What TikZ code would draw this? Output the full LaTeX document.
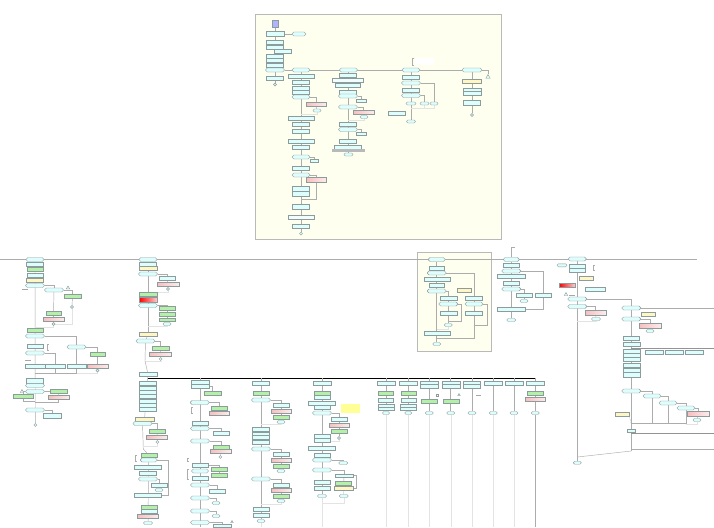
\documentclass[tikz,border=0pt]{standalone}
\usetikzlibrary{shapes.geometric}
\pgfdeclarelayer{back}
\pgfdeclarelayer{bg}
\pgfsetlayers{back,bg,main}
\definecolor{boxc}{RGB}{222,253,253}
\definecolor{boxg}{RGB}{180,240,168}
\definecolor{boxy}{RGB}{255,246,196}
\definecolor{boxp}{RGB}{248,190,190}
\definecolor{edgec}{RGB}{140,155,155}
\definecolor{panel}{RGB}{255,255,240}
\tikzset{
  nd/.style={draw=edgec,line width=0.4pt,inner sep=0pt,minimum height=4pt,minimum width=17pt},
  w/.style={minimum width=#1pt},
  h/.style={minimum height=#1pt},
  cb/.style={nd,fill=boxc},
  gb/.style={nd,fill=boxg},
  yb/.style={nd,fill=boxy},
  pb/.style={nd,left color=boxp,right color=boxp!30},
  rg/.style={nd,left color=red,right color=red!20},
  ob/.style={cb,rounded corners=1.8pt,minimum width=19pt},
  sov/.style={cb,rounded corners=1.4pt,minimum width=8pt,minimum height=3pt},
  tm/.style={draw=edgec,fill=boxc,circle,inner sep=0pt,minimum size=3pt},
  tri/.style={draw=edgec,fill=boxc,regular polygon,regular polygon sides=3,inner sep=0pt,minimum size=5pt},
  wire/.style={draw=gray!65,line width=0.45pt},
  faint/.style={draw=gray!22,line width=0.4pt},
  heavy/.style={draw=black,line width=0.8pt},
  tick/.style={draw=gray!70,line width=0.45pt},
}
\begin{document}
\begin{tikzpicture}[x=1pt,y=-1pt]
\useasboundingbox (0,0) rectangle (714,527);
\begin{pgfonlayer}{back}
\fill[white] (0,0) rectangle (714,527);
% upper panel
\draw[draw=gray!55,fill=panel,line width=0.5pt] (255.5,14.5) rectangle (501.5,239.5);
% small framed group
\draw[draw=gray!55,fill=panel,line width=0.5pt] (417,252) rectangle (491,351);
\end{pgfonlayer}

% first lane
\node[nd,fill=blue!30,w=6,h=7] (t0) at (275,23.5) {};
\node[cb,w=18,h=5] (t1) at (275,34) {};
\node[ob,w=14] (t1r) at (299,34) {};
\node[cb] (t2) at (275,42) {};
\node[cb] (t3) at (275,47) {};
\node[cb] (t3r) at (283,51) {};
\node[cb] (t4) at (275,56.5) {};
\node[cb] (t5) at (275,60.2) {};
\node[cb] (t6) at (275,65) {};
\node[ob] (t7) at (275,70) {};
\node[cb] (t8) at (275,78) {};
\node[tm] (t9) at (275,84.5) {};

% second lane
\node[ob,w=18] (a1) at (301,70) {};
\node[cb,w=26] (a2) at (301,76) {};
\node[cb] (a3) at (301,82) {};
\node[cb] (a4) at (301,88.5) {};
\node[cb] (a5) at (301,92.3) {};
\node[ob,w=18] (a6) at (301,97) {};
\node[pb,w=20] (a6p) at (316,104) {};
\node[sov] (a6s) at (317,110.5) {};
\node[cb,w=26] (a7) at (301,118) {};
\node[cb] (a8) at (301,124) {};
\node[cb] (a9) at (301,131) {};
\node[cb,w=26] (a10) at (301,141) {};
\node[cb] (a11) at (301,147) {};
\node[ob,w=18] (a12) at (301,157) {};
\node[cb,w=8,h=3.5] (a12r) at (314,160.5) {};
\node[cb] (a13) at (301,168) {};
\node[ob,w=18] (a14) at (301,175) {};
\node[pb,w=20,h=5] (a14p) at (316,179.5) {};
\node[cb,h=5] (a15) at (301,188.5) {};
\node[cb,h=5] (a16) at (301,193.5) {};
\node[cb,h=5] (a17) at (301,206.5) {};
\node[cb,w=26,fill=boxc!40] (a18) at (301,217.5) {};
\node[cb] (a19) at (301,226) {};
\node[tm] (a20) at (301,233.7) {};
\coordinate (a6j) at (301,114);
\coordinate (a14j) at (301,199);

% third lane
\node[ob,w=18] (b1) at (348.5,70) {};
\node[cb] (b2) at (348,75) {};
\node[cb,w=31,fill=boxc!40] (b3) at (348,80.5) {};
\node[cb,w=25] (b4) at (348,85) {};
\node[cb] (b5) at (348,92) {};
\node[ob] (b6) at (348,96) {};
\node[cb,w=10,h=3] (b6r) at (361,100.5) {};
\node[ob] (b7) at (348,107) {};
\node[pb,w=21] (b7p) at (363.5,112) {};
\node[sov] (b7s) at (364,117) {};
\node[cb] (b8) at (348,124) {};
\node[ob] (b9) at (348,129.5) {};
\node[cb,w=10,h=3] (b9r) at (361,133.5) {};
\node[cb] (b10) at (348,141) {};
\node[cb,w=27] (b11) at (348,147) {};
\node[nd,fill=gray!55,draw=gray!55,w=32,h=2] (b12) at (348,150.3) {};
\node[sov,w=9] (b13) at (348.5,154.5) {};
\coordinate (b7j) at (348,120);

% fourth lane
\node[fill=white,inner sep=0pt,minimum width=19pt,minimum height=7pt] (c0) at (424,61.5) {};
\node[ob,w=18] (c1) at (411,70) {};
\node[cb] (c2) at (411,77) {};
\node[ob] (c3) at (411,83) {};
\node[cb] (c4) at (411,90) {};
\node[ob] (c5) at (411,95.5) {};
\node[sov,w=10] (c6) at (411,103.5) {};
\node[sov,w=9] (c6b) at (424.5,103.5) {};
\node[sov,w=8] (c6c) at (434,103.5) {};
\node[cb] (c7) at (396.5,113) {};
\node[sov,w=9] (c8) at (411,121.5) {};
\coordinate (c6j) at (411,108);

% fifth lane
\node[ob,w=20] (d1) at (472,70) {};
\node[tri] (d1t) at (488,77) {};
\node[yb,w=19] (d2) at (472,81) {};
\node[cb,w=18,h=3.5] (d3) at (472,89.5) {};
\node[cb,w=18,h=3.5] (d3b) at (472,93.3) {};
\node[cb,w=17,h=5] (d4) at (472,102.5) {};
\node[tm] (d5) at (472,115) {};

% ---------- small framed group ----------
\node[ob,w=17] (k1) at (436.7,259.5) {};
\node[cb,w=15] (k2) at (436.7,268) {};
\node[ob] (k3) at (436.7,273) {};
\node[cb,w=26] (k4) at (436.7,279) {};
\node[cb,w=15] (k5) at (436.7,285) {};
\node[ob] (k6) at (436.7,291) {};
\node[yb,w=14] (k6y) at (464,290.5) {};
\node[cb] (k7) at (448.3,298.5) {};
\node[ob] (k8) at (448.3,304) {};
\node[cb] (k9) at (448.3,313) {};
\node[sov] (k9s) at (448.3,325) {};
\node[cb] (k10) at (474,298.5) {};
\node[ob,w=18] (k11) at (474,304) {};
\node[cb] (k12) at (474,313) {};
\node[cb,w=26] (k13) at (436.7,333) {};
\node[sov] (k14) at (436.7,344) {};

% ---------- lane beside the framed group ----------
\node[ob,w=16] (m1) at (511.3,259.5) {};
\node[cb,w=16] (m2) at (511.3,265) {};
\node[ob] (m3) at (511.3,271) {};
\node[cb,w=28] (m4) at (511.3,276.5) {};
\node[cb,w=16] (m5) at (511.3,283) {};
\node[ob] (m6) at (511.3,289) {};
\node[cb,w=16] (m7) at (524,295) {};
\node[cb,w=16] (m8) at (543.3,295) {};
\node[sov] (m7s) at (524,301) {};
\node[cb,w=28] (m9) at (511.3,309) {};
\node[sov,w=9] (m10) at (511.3,320) {};

% ---------- right lanes ----------
\node[ob,w=18] (n1) at (577.3,259) {};
\node[sov,w=10] (n0) at (562,265.3) {};
\node[cb,w=16] (n2) at (577.3,266) {};
\node[cb,w=16] (n3) at (577.3,269.7) {};
\node[yb,w=14] (n4) at (586,278) {};
\node[rg,w=16] (n5) at (567,285) {};
\node[cb,w=20] (n6) at (595,289.5) {};
\node[tri,minimum size=4pt] (n6t) at (566,294.5) {};
\node[ob] (n7) at (577.3,299) {};
\node[ob] (n8) at (577.3,306.5) {};
\node[pb,w=21,h=5] (n9) at (595.5,313) {};
\node[sov,w=9] (n9s) at (596,319) {};
\node[sov,w=8] (n10) at (577.3,462.7) {};
\coordinate (n9j) at (577.3,321);

\node[ob] (p1) at (631.3,308) {};
\node[yb,w=14] (p2) at (648,314) {};
\node[ob] (p3) at (631.3,319) {};
\node[pb,w=22,h=5] (p4) at (650,325.5) {};
\node[sov,w=8] (p4s) at (650,331) {};
\node[cb,w=16] (p5) at (631.3,338) {};
\node[cb,w=17] (p6) at (631.3,344) {};
\node[cb] (p7) at (631.3,351.5) {};
\node[cb] (p8) at (631.3,355.5) {};
\node[cb] (p9) at (631.3,359.5) {};
\node[cb] (p10) at (631.3,365.5) {};
\node[cb] (p11) at (631.3,369.7) {};
\node[cb,h=4.5] (p12) at (631.3,374.5) {};
\node[cb,w=18] (p13) at (654,352.5) {};
\node[cb,w=18] (p14) at (674,352.5) {};
\node[cb,w=18] (p15) at (694,352.5) {};
\node[ob] (p16) at (631.3,391) {};
\node[ob,w=18] (p17) at (652,396) {};
\node[ob,w=18] (p18) at (668,403) {};
\node[ob,w=18] (p19) at (686,408) {};
\node[pb,w=22,h=5] (p20) at (698,413.5) {};
\node[sov,w=8] (p20s) at (697,420) {};
\node[yb,w=14] (p21) at (622,414) {};
\node[cb,w=8,h=3] (p22) at (631.3,430.5) {};
\coordinate (pj) at (631.3,423.7);
\coordinate (pe) at (631.3,451);

% ---------- lane A ----------
\node[ob,w=18] (e1) at (35,259.5) {};
\node[cb] (e2) at (35,264.5) {};
\node[gb,w=16] (e3) at (35,269) {};
\node[cb,w=16] (e4) at (35,275.5) {};
\node[yb] (e5) at (35,280) {};
\node[ob] (e6) at (35,285.5) {};
\node[ob] (e7) at (54,290) {};
\node[tri,minimum size=4pt] (e7t) at (68,288) {};
\node[gb] (e8) at (72.5,296) {};
\node[tm] (e8s) at (72,307) {};
\node[gb,w=15] (e9) at (53.5,313) {};
\node[pb,w=21] (e10) at (53.5,319) {};
\node[tm] (e10s) at (53.5,324) {};
\node[gb,w=16] (e11) at (35,330) {};
\node[ob] (e12) at (35,336) {};
\node[cb,w=16] (e13) at (35,346) {};
\node[ob] (e14) at (35,353) {};
\node[ob] (e15) at (76.5,347) {};
\node[gb,w=15] (e16) at (97.5,354) {};
\node[cb,w=20] (e17) at (35,366) {};
\node[cb,w=20] (e18) at (55,366) {};
\node[cb,w=19] (e19) at (76.5,366) {};
\node[pb,w=21] (e20) at (97.5,366) {};
\node[tm] (e20s) at (97.5,370.5) {};
\node[cb,h=5] (e21) at (35,380.5) {};
\node[ob] (e22) at (35,385.5) {};
\node[ob] (e23) at (35,391.5) {};
\node[gb,w=20] (e24) at (23,396) {};
\node[gb] (e25) at (58.3,391.5) {};
\node[pb,w=21] (e26) at (58.7,397) {};
\node[ob] (e27) at (35,410) {};
\node[cb,w=18,h=5] (e28) at (52,415.5) {};
\node[tm] (e29) at (35.3,425) {};
\node[tri,minimum size=4pt] (e24t) at (22,391.5) {};

% ---------- lane B ----------
\node[ob,w=18] (f1) at (148,259.5) {};
\node[cb] (f2) at (148,264.5) {};
\node[yb,w=18] (f3) at (148,268.5) {};
\node[ob] (f4) at (148,274) {};
\node[cb,w=16] (f5) at (167,278) {};
\node[pb,w=22] (f6) at (168,284) {};
\node[tm] (f6s) at (168,289) {};
\node[gb,w=18] (f7) at (148,294) {};
\node[rg,w=18,h=5] (f8) at (148,300) {};
\node[ob] (f9) at (148,305.5) {};
\node[gb,w=16] (f10) at (167,308) {};
\node[gb,w=16] (f11) at (167,314) {};
\node[gb,w=16,h=3.5] (f12) at (167,319.5) {};
\node[sov] (f12s) at (167,324) {};
\node[yb,w=18] (f13) at (148,334.5) {};
\node[ob] (f14) at (145.5,341) {};
\node[gb] (f15) at (160.5,348) {};
\node[pb,w=22] (f16) at (160,354) {};
\node[tm] (f16s) at (160.7,359) {};
\node[cb,w=18] (f17) at (148,374) {};
\node[cb] (f18) at (148,383.5) {};
\node[cb] (f19) at (148,388) {};
\node[cb] (f20) at (148,392.5) {};
\node[cb] (f21) at (148,396.6) {};
\node[cb] (f22) at (148,401) {};
\node[cb] (f23) at (148,405.5) {};
\node[cb] (f24) at (148,409.6) {};
\node[yb,w=19] (f25) at (144.5,419.5) {};
\node[ob] (f26) at (142.5,423.5) {};
\node[gb,w=16] (f27) at (157,431) {};
\node[pb,w=21] (f28) at (157,437) {};
\node[tm] (f28s) at (157.3,442) {};
\node[gb,w=16] (f29) at (148.7,455) {};
\node[ob,w=17] (f30) at (148.7,460) {};
\node[cb,w=27] (f31) at (148,467) {};
\node[cb] (f32) at (148,473) {};
\node[ob] (f33) at (148,479) {};
\node[cb,w=16] (f34) at (159,485) {};
\node[sov] (f34s) at (159,490) {};
\node[cb,w=27] (f35) at (148,495.5) {};
\node[gb,w=16] (f36) at (148.7,507) {};
\node[cb,w=16] (f37) at (148.7,511) {};
\node[pb,w=21] (f38) at (147.7,516.5) {};
\node[sov,w=9] (f39) at (148,523) {};
\coordinate (hb0) at (148,378.3);
\coordinate (hb1) at (536,378.3);

% ---------- lane C ----------
\node[cb,w=18] (g1) at (200,382.5) {};
\node[cb,w=18] (g2) at (200,386.5) {};
\node[gb] (g3) at (212.7,393) {};
\node[ob] (g4) at (199.7,402.5) {};
\node[gb,w=16] (g5) at (219,408) {};
\node[pb,w=20] (g6) at (219,413) {};
\node[cb,w=16] (g7) at (200,423) {};
\node[ob] (g8) at (200,428.5) {};
\node[cb,w=16] (g9) at (221,433) {};
\node[ob] (g10) at (200,441) {};
\node[gb,w=16] (g11) at (221,447) {};
\node[pb,w=21] (g12) at (220.7,451.5) {};
\node[tm] (g12s) at (220.3,457) {};
\node[cb,w=16] (g13) at (200,465) {};
\node[ob,w=17] (g14) at (200,471) {};
\node[gb,w=16] (g15) at (219,469) {};
\node[gb,w=16] (g16) at (219,475) {};
\node[cb,w=16] (g17) at (200,478) {};
\node[ob] (g18) at (200,485) {};
\node[cb,w=16] (g19) at (217,491) {};
\node[ob] (g20) at (200,498) {};
\node[sov] (g20s) at (216,503) {};
\node[ob] (g21) at (200,511) {};
\node[sov] (g21s) at (216,516) {};
\node[ob] (g22) at (200,522.5) {};
\node[cb,w=18,h=3] (g23) at (222,525.5) {};
\node[tri,minimum size=3pt] (g23t) at (232,522) {};

% ---------- lane D ----------
\node[cb] (h1) at (261,383) {};
\node[gb,w=16] (h2) at (261,393) {};
\node[ob] (h3) at (261,400) {};
\node[cb,w=16] (h4) at (281,405) {};
\node[pb,w=20] (h5) at (281,411) {};
\node[gb,w=16] (h6) at (281,417) {};
\node[sov] (h6s) at (281,422) {};
\node[cb] (h7) at (261,429) {};
\node[cb] (h8) at (261,434) {};
\node[cb] (h9) at (261,437.5) {};
\node[cb] (h10) at (261,442) {};
\node[ob] (h11) at (261,449) {};
\node[cb,w=16] (h12) at (281,454) {};
\node[pb,w=20] (h13) at (281,460) {};
\node[gb,w=16] (h14) at (281,466) {};
\node[sov] (h14s) at (281,471) {};
\node[ob] (h15) at (261,479) {};
\node[cb,w=16] (h16) at (281,485) {};
\node[pb,w=20] (h17) at (281,490.5) {};
\node[gb,w=16] (h18) at (281,496) {};
\node[sov] (h18s) at (281,501) {};
\node[cb,w=16] (h19) at (261,509) {};
\node[cb,w=16] (h20) at (261,515) {};
\node[sov] (h21) at (261,521) {};

% ---------- lane E ----------
\node[cb,w=18] (i1) at (322,383) {};
\node[gb,w=16] (i2) at (322,393) {};
\node[cb,w=16] (i3) at (322,397) {};
\node[cb,w=27] (i4) at (322,403) {};
\node[cb,w=16] (i5) at (322,407) {};
\node[fill={rgb,255:red,255;green,255;blue,150},inner sep=0pt,minimum width=19pt,minimum height=9pt] (iY) at (350.7,408.5) {};
\node[ob] (i6) at (322,413) {};
\node[cb,w=16] (i7) at (339,419) {};
\node[pb,w=20] (i8) at (339,425) {};
\node[gb,w=16] (i9) at (339,431) {};
\node[tm] (i9s) at (339,438) {};
\node[cb,w=16] (i10) at (322,436.5) {};
\node[cb,w=16] (i11) at (322,440.3) {};
\node[cb,w=27] (i12) at (322,448) {};
\node[cb,w=16] (i13) at (322,455) {};
\node[ob] (i14) at (322,460) {};
\node[sov,w=9] (i14s) at (343.3,463) {};
\node[ob] (i15) at (322,470) {};
\node[cb,w=18,h=3.5] (i16) at (344,475.5) {};
\node[gb,w=16] (i17) at (343,483) {};
\node[yb,w=19] (i18) at (343.3,488) {};
\node[cb,w=16] (i19) at (322,482.5) {};
\node[cb,w=16] (i20) at (322,488) {};
\node[sov,w=9] (i21) at (322,496) {};
\node[sov,w=9] (i22) at (343.7,496) {};

% ---------- short lanes under the bar ----------
\foreach \nm/\xx in {jA/386,jB/408.3}{
  \node[cb,w=18] (\nm1) at (\xx,383) {};
  \node[gb,w=15] (\nm2) at (\xx,393) {};
  \node[cb,w=15] (\nm3) at (\xx,400) {};
  \node[cb,w=16,h=3] (\nm4) at (\xx,406) {};
  \node[cb,w=16,h=3] (\nm5) at (\xx,409) {};
  \node[sov,w=7] (\nm6) at (\xx,413) {};
}
\foreach \nm/\xx in {jC/429.3,jD/450.7}{
  \node[cb,w=18] (\nm1) at (\xx,383) {};
  \node[cb,w=18] (\nm2) at (\xx,386.5) {};
  \node[gb,w=16] (\nm3) at (\xx,401) {};
  \node[sov,w=8] (\nm6) at (\xx,413) {};
}
\node[cb,w=17] (jE1) at (472,383) {};
\node[cb,w=17] (jE2) at (472,386.5) {};
\node[sov,w=8] (jE6) at (472,413) {};
\foreach \nm/\xx in {jF/493.3,jG/514}{
  \node[cb,w=18] (\nm1) at (\xx,383) {};
  \node[sov,w=8] (\nm6) at (\xx,413) {};
}
\node[cb,w=18] (jH1) at (535.3,383) {};
\node[gb,w=16] (jH2) at (535.3,393) {};
\node[pb,w=20] (jH3) at (535.3,399) {};
\node[sov,w=8] (jH6) at (535.3,413) {};
\node[draw=edgec,inner sep=0pt,minimum size=1.6pt] (jCm) at (437,395) {};
\node[tri,minimum size=3pt] (jDm) at (459,395) {};

% ---------- connectors ----------
\begin{pgfonlayer}{bg}
% upper panel
\draw[wire] (t0) -- (t9);
\draw[wire] (t1) -- (t1r);
\draw[wire] (t7) -- (d1);
\draw[wire] (a1) -- (a20);
\draw[wire] (a6.east) -| (a6p.north);
\draw[wire] (a6p) -- (a6s);
\draw[faint] (a6s.south) |- (a6j);
\draw[wire] (a12.east) -| (a12r.north);
\draw[wire] (a14.east) -| (a14p.north);
\draw[wire] (a14p.south) |- (a14j);
\draw[wire] (b1) -- (b13);
\draw[wire] (b6.east) -| (b6r.north);
\draw[wire] (b7.east) -| (b7p.north);
\draw[wire] (b7p) -- (b7s);
\draw[faint] (b7s.south) |- (b7j);
\draw[wire] (b9.east) -| (b9r.north);
\draw[wire] (c0.north west) -- ++(-2,0) |- (c0.south west);
\draw[wire] (c1) -- (c8);
\draw[wire] (c3.east) -| (c6c.north);
\draw[wire] (c5.east) -| (c6b.north);
\draw[faint] (c6b.south) |- (c6j);
\draw[faint] (c6c.south) |- (c6j);
\draw[wire] (d1) -- (d5);
\draw[wire] (d1.east) -| (d1t.north);

% long rule
\draw[wire] (0,259.5) -- (697,259.5);

% framed group
\draw[wire] (k1) -- (k14);
\draw[wire] (k3.east) -| (k10.north);
\draw[wire] (k6.east) -| (k7.north);
\draw[wire] (k7) -- (k9s);
\draw[wire] (k8.east) -| (461.3,321) -| (k9s.north);
\draw[wire] (k10) -- (k12);
\draw[wire] (k11.east) -| (487,325) -| (k12.south);
\draw[wire] (k12.south) |- (436.7,338);
\draw[faint] (k9s.south) |- (436.7,329.3);

% lane beside
\draw[wire] (m1.north) -- ++(0,-10.5) -- ++(3.5,0);
\draw[wire] (m1) -- (m10);
\draw[wire] (m3.east) -| (m8.north);
\draw[wire] (m6.east) -| (m7.north);
\draw[wire] (m7) -- (m7s);
\draw[wire] (m8.south) |- (m9.east);

% right lanes
\draw[wire] (n1) -- (n10);
\draw[wire] (595,265) -- (593.5,265) -- (593.5,270.5) -- (595,270.5);
\draw[tick] (569,294.8) -- (575,294.8);
\draw[wire] (n8.east) -| (n9.north);
\draw[wire] (n9) -- (n9s);
\draw[faint] (n9s.south) |- (n9j);
\draw[wire] (n7.east) -| (p1.north);
\draw[wire] (p1.east) -- (714,308);
\draw[wire] (p1) -- (pe);
\draw[wire] (p3.east) -| (p4.north);
\draw[wire] (p4) -- (p4s);
\draw[draw=gray!85,line width=0.6pt] (631.3,348.3) -- (714,348.3);
\draw[wire] (p16.east) -| (p17.north);
\draw[wire] (p17.east) -| (p18.north);
\draw[wire] (p18.east) -| (p19.north);
\draw[wire] (p19.east) -| (p20.north);
\draw[wire] (p20) -- (p20s);
\draw[wire] (p17.south) -- (652,423.7);
\draw[wire] (p18.south) -- (668,423.7);
\draw[wire] (p19.south) -- (686,423.7);
\draw[wire] (pj) -- (686,423.7);
\draw[faint] (686,423.7) -- (697,423.7) -- (p20s.south);
\draw[draw=gray!80,densely dotted,line width=0.5pt] (p21.south east) -- (pj);
\draw[draw=gray!85,line width=0.6pt] (631.3,433.7) -- (714,433.7);
\draw[wire] (631.3,449.7) -- (714,449.7);
\draw[wire] (pe) -- (577.3,457);

% lane A
\draw[wire] (e1) -- (e29);
\draw[tick] (22,289) -- (28,289);
\draw[wire] (e6.east) -| (e7.north);
\draw[wire] (e7.east) -| (e8.north);
\draw[wire] (e8) -- (e8s);
\draw[wire] (e7) -- (e9);
\draw[wire] (e9) -- (e10s);
\draw[faint] (e8s.south) |- (e10s.east);
\draw[faint] (e10s.south) |- (35,327);
\draw[wire] (e12.east) -| (e15.north);
\draw[wire] (e15.east) -| (e16.north);
\draw[wire] (e14.east) -| (e18.north);
\draw[wire] (e15) -- (e19);
\draw[wire] (e16) -- (e20);
\draw[wire] (e20) -- (e20s);
\draw[wire] (e18.south) |- (35,373);
\draw[wire] (e19.south) |- (35,373);
\draw[faint] (e20s.south) |- (76.5,373);
\draw[wire] (48.5,344) -- (47,344) -- (47,350) -- (48.5,350);
\draw[tick] (25,360) -- (31,360);
\draw[wire] (e23) -- (e25);
\draw[wire] (e25) -- (e26);
\draw[wire] (e23.west) -| (e24.north);
\draw[wire] (e24.south) |- (35,401);
\draw[wire] (e26.south) |- (35,402.7);
\draw[wire] (e27.east) -| (e28.north);

% lane B
\draw[wire] (f1) -- (f13);
\draw[wire] (f4.east) -| (f5.north);
\draw[wire] (f5) -- (f6s);
\draw[faint] (f6s.south) |- (148,292);
\draw[wire] (f9.east) -| (f10.north);
\draw[wire] (f10) -- (f12s);
\draw[faint] (f12s.south) |- (148,326);
\draw[wire] (f13) -- (f14);
\draw[wire] (f14.east) -| (f15.north);
\draw[wire] (f15) -- (f16s);
\draw[faint] (f16s.south) |- (145,361);
\draw[wire] (f14) -- (145,361) -- (f17);
\draw[heavy] (hb0) -- (hb1);
\draw[wire] (f17) -- (f25);
\draw[wire] (f26) -- (143.3,449) -- (f29);
\draw[wire] (f26.east) -| (f27.north);
\draw[wire] (f27) -- (f28s);
\draw[faint] (f28s.south) |- (143.3,446);
\draw[wire] (137,455) -- (135,455) -- (135,461) -- (137,461);
\draw[wire] (f29) -- (f39);
\draw[wire] (f30.east) -| (168.7,495.5) -- (f35.east);
\draw[wire] (f33.east) -| (f34.north);
\draw[wire] (f34) -- (f34s);

% lane C
\draw[wire] (200,378.3) -- (200,527);
\draw[wire] (g2.east) -| (g3.north);
\draw[wire] (g4.east) -| (g5.north);
\draw[wire] (g5) -- (g6);
\draw[wire] (g8.east) -| (g9.north);
\draw[wire] (g10.east) -| (g11.north);
\draw[wire] (g11) -- (g12s);
\draw[wire] (g13.east) -| (g15.north);
\draw[wire] (g15) -- (g16);
\draw[wire] (g18.east) -| (g19.north);
\draw[wire] (g20.east) -| (g20s.north);
\draw[wire] (g21.east) -| (g21s.north);
\draw[wire] (g22.east) -| (g23.north);
\draw[wire] (193,407) -- (191.5,407) -- (191.5,413) -- (193,413);
\draw[wire] (189,458) -- (187.5,458) -- (187.5,461.5) -- (189,461.5);
\draw[wire] (189,469) -- (187.5,469) -- (187.5,479) -- (189,479);

% lane D
\draw[wire] (261,378.3) -- (h21);
\draw[faint] (h21) -- (261,527);
\draw[wire] (h3.east) -| (h4.north);
\draw[wire] (h4) -- (h6s);
\draw[faint] (h6s.south) |- (261,424);
\draw[wire] (h11.east) -| (h12.north);
\draw[wire] (h12) -- (h14s);
\draw[wire] (h15.east) -| (h16.north);
\draw[wire] (h16) -- (h18s);
\draw[faint] (h18s.south) |- (261,504);

% lane E
\draw[wire] (322,378.3) -- (i21);
\draw[faint] (i21) -- (322,527);
\draw[wire] (i6.east) -| (i7.north);
\draw[wire] (i7) -- (i9s);
\draw[faint] (i9s.south) |- (322,441);
\draw[wire] (i14.east) -| (i14s.north);
\draw[wire] (i15.east) -| (i16.north);
\draw[wire] (i16) -- (i22);
\draw[wire] (i16.east) -| (356.7,488) -- (i18.east);
\draw[faint] (i22.south) |- (322,503);

% short lanes
\foreach \nm in {jA,jB,jC,jD,jF,jG,jH}{
  \draw[wire] (\nm1 |- hb0) -- (\nm6);
}
\draw[wire] (jE1 |- hb0) -- (jE6);
\foreach \nm in {jA,jB,jC,jD,jE,jF,jG}{
  \draw[faint] (\nm6) -- (\nm6 |- 0,527);
}
\draw[wire] (jH6) -- (535.3,527);
\draw[tick] (476,395) -- (481,395);
\end{pgfonlayer}
\end{tikzpicture}
\end{document}
